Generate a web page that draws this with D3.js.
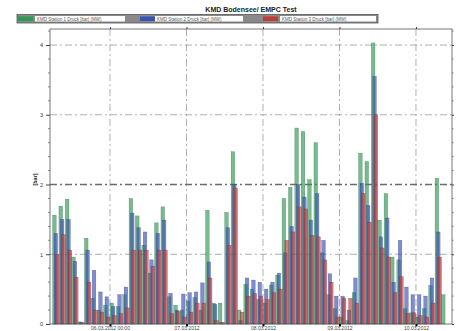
<!DOCTYPE html>
<html><head><meta charset="utf-8">
<script src="https://cdn.jsdelivr.net/npm/d3@7"></script>
<style>body{margin:0;background:#fff}svg{display:block;font-family:"Liberation Sans",Arial,sans-serif}</style>
</head><body><svg id="c" width="464" height="331"></svg>
<script>
const chartTitle = "KMD Bodensee/ EMPC Test";
const seriesNames = ["KMD Station 1 Druck [bar] (MW)", "KMD Station 2 Druck [bar] (MW)", "KMD Station 3 Druck [bar] (MW)"];
const seriesColors = ["#2f9a55", "#3a52b4", "#c23a3a"];
const seriesEdges = ["#1d5a35", "#26356f", "#6e2020"];
const yLabel = "[bar]";
const startTime = new Date(2012, 2, 5, 6, 0);
const stepHours = 2;
const green = [1.56,1.69,1.79,0.96,0.03,1.23,0.37,0.20,0.27,
  0.30,0.25,0.42,1.80,1.55,1.13,0.73,1.45,1.68,0.39,0.27,0.20,
  0.33,0.38,0.20,1.63,0.30,0.30,1.60,2.47,0.20,0.57,0.50,0.35,
  0.30,0.56,0.70,1.80,1.96,2.81,2.76,2.07,2.60,1.02,0.42,0.22,
  0.10,0.05,0.45,2.45,2.33,4.03,1.49,1.87,0.96,0.92,0.22,0.16,
  0.10,0.22,0.55,2.09,0.42];
const blue = [1.30,1.50,1.50,0.90,0.02,1.06,0.77,0.46,0.39,
  0.25,0.42,0.53,1.59,1.38,1.32,0.92,1.30,1.49,0.44,0.20,0.43,
  0.45,0.46,0.59,0.89,0.28,0.02,1.38,2.00,0.05,0.66,0.63,0.60,
  0.50,0.60,0.73,1.02,1.40,2.00,1.82,1.49,1.87,1.20,0.72,0.40,
  0.40,0.20,0.66,2.02,1.70,3.55,1.25,1.52,0.60,1.20,0.53,0.42,
  0.42,0.40,0.66,1.32,0.00];
const red = [1.00,1.28,1.06,0.67,0.02,0.60,0.20,0.17,0.10,
  0.12,0.15,0.23,1.06,1.06,1.06,0.83,1.06,1.06,0.15,0.18,0.10,
  0.17,0.30,0.30,0.66,0.05,0.02,1.13,1.95,0.17,0.40,0.44,0.40,
  0.35,0.45,0.50,1.20,1.32,1.68,1.65,1.27,1.25,0.92,0.60,0.10,
  0.37,0.37,0.30,1.87,1.46,3.00,1.09,0.96,0.45,0.68,0.15,0.16,
  0.12,0.10,0.30,0.96,0.00];
const yTicks = [0, 1, 2, 3, 4];
const dayTicks = [new Date(2012,2,6), new Date(2012,2,7), new Date(2012,2,8), new Date(2012,2,9), new Date(2012,2,10)];
const dayTickLabels = ["06.03.2012 00:00", "07.03.2012", "08.03.2012", "09.03.2012", "10.03.2012"];

const H = 3600 * 1000;
const categories = green.map((_, i) => new Date(+startTime + i * stepHours * H));
const series = [green, blue, red];

const L = 50, R = 452, T = 29, B = 324;
const svg = d3.select("#c");
const x = d3.scaleTime()
  .domain([new Date(+startTime - 0.816 * H), new Date(+startTime + 125.3 * H)])
  .range([L, R]);
const y = d3.scaleLinear().domain([0, 4.23]).range([B, T]);

// grid
const grid = svg.append("g");
grid.selectAll("line.v").data(dayTicks).join("line")
  .attr("x1", d => x(d)).attr("x2", d => x(d)).attr("y1", T).attr("y2", B)
  .attr("stroke", "#9a9a9a").attr("stroke-width", 0.8).attr("stroke-dasharray", "7,3,2,3");
grid.selectAll("line.h").data(yTicks.filter(v => v > 0)).join("line")
  .attr("x1", L).attr("x2", R).attr("y1", d => y(d)).attr("y2", d => y(d))
  .attr("stroke", d => d === 2 ? "#6a6a6a" : "#9a9a9a")
  .attr("stroke-width", d => d === 2 ? 1.6 : 0.8)
  .attr("stroke-dasharray", "7,3,2,3");

// bars
const bars = svg.append("g");
series.forEach((vals, si) => {
  bars.selectAll(null).data(vals).join("rect")
    .attr("x", (d, i) => {
      const x0 = x(categories[i]), sw = x(new Date(+categories[i] + stepHours * H)) - x0;
      return x0 + sw * 0.22 * si;
    })
    .attr("width", (d, i) => (x(new Date(+categories[i] + stepHours * H)) - x(categories[i])) * 0.56)
    .attr("y", d => y(d))
    .attr("height", d => B - y(d))
    .attr("fill", seriesColors[si])
    .attr("fill-opacity", 0.66)
    .attr("stroke", seriesEdges[si])
    .attr("stroke-width", 0.4)
    .attr("stroke-opacity", 0.6);
});

// frame
svg.append("rect").attr("x", L).attr("y", T).attr("width", R - L).attr("height", B - T)
  .attr("fill", "none").attr("stroke", "#555").attr("stroke-width", 0.8);

// y axis left
const yAxis = d3.axisLeft(y).tickValues(yTicks).tickSize(4).tickFormat(d3.format("d"));
const ya = svg.append("g").attr("transform", `translate(${L},0)`).call(yAxis);
ya.select(".domain").remove();
ya.selectAll("text").attr("font-size", 5.5).attr("fill", "#333");
ya.selectAll("line").attr("stroke", "#444");
const minor = d3.range(0, 4.21, 0.2).filter(v => Math.abs(v - Math.round(v)) > 0.01);
svg.append("g").selectAll("line").data(minor).join("line")
  .attr("x1", L - 2).attr("x2", L).attr("y1", d => y(d)).attr("y2", d => y(d))
  .attr("stroke", "#555").attr("stroke-width", 0.7);
// right axis
const ra = svg.append("g").attr("transform", `translate(${R},0)`).call(d3.axisRight(y).tickValues(yTicks).tickSize(2).tickFormat(""));
ra.select(".domain").remove();
ra.selectAll("line").attr("stroke", "#444");
svg.append("g").selectAll("line").data(minor).join("line")
  .attr("x1", R).attr("x2", R + 1.5).attr("y1", d => y(d)).attr("y2", d => y(d))
  .attr("stroke", "#555").attr("stroke-width", 0.7);

// x axis bottom
const xAxis = d3.axisBottom(x).tickValues(dayTicks).tickSize(2.5).tickFormat((d, i) => dayTickLabels[i]);
const xa = svg.append("g").attr("transform", `translate(0,${B})`).call(xAxis);
xa.select(".domain").remove();
xa.selectAll("line").attr("stroke", "#111").attr("stroke-width", 2);
xa.selectAll("text").attr("font-size", 5).attr("fill", "#444").attr("y", 2.2).attr("dy", "0.71em");
// top axis
const ta = svg.append("g").attr("transform", `translate(0,${T})`).call(d3.axisTop(x).tickValues(dayTicks).tickSize(2).tickFormat(""));
ta.select(".domain").remove();
ta.selectAll("line").attr("stroke", "#444");

// y label
svg.append("text").attr("transform", `translate(37,${(T + B) / 2 + 3}) rotate(-90)`)
  .attr("text-anchor", "middle").attr("font-size", 5.5).attr("font-weight", "bold").attr("fill", "#222")
  .text(yLabel);

// title
svg.append("text").attr("x", 251).attr("y", 12).attr("text-anchor", "middle")
  .attr("font-size", 7).attr("font-weight", "bold").attr("fill", "#222").text(chartTitle);

// legend
const lg = svg.append("g");
lg.append("rect").attr("x", 17).attr("y", 14.5).attr("width", 361).attr("height", 8.5)
  .attr("fill", "#8a8a8a").attr("stroke", "#555").attr("stroke-width", 0.8);
const legendPos = [[18, 35, 90], [140, 155, 88], [263, 280, 96]];
seriesNames.forEach((n, i) => {
  const [sx, tx, tw] = legendPos[i];
  lg.append("rect").attr("x", sx).attr("y", 16.5).attr("width", 15).attr("height", 4.5).attr("fill", seriesColors[i]);
  lg.append("rect").attr("x", tx).attr("y", 16).attr("width", tw).attr("height", 5.5).attr("fill", "#fff");
  lg.append("text").attr("x", tx + 2).attr("y", 20.5).attr("font-size", 4.5).attr("fill", "#555").text(n);
});
</script></body></html>
